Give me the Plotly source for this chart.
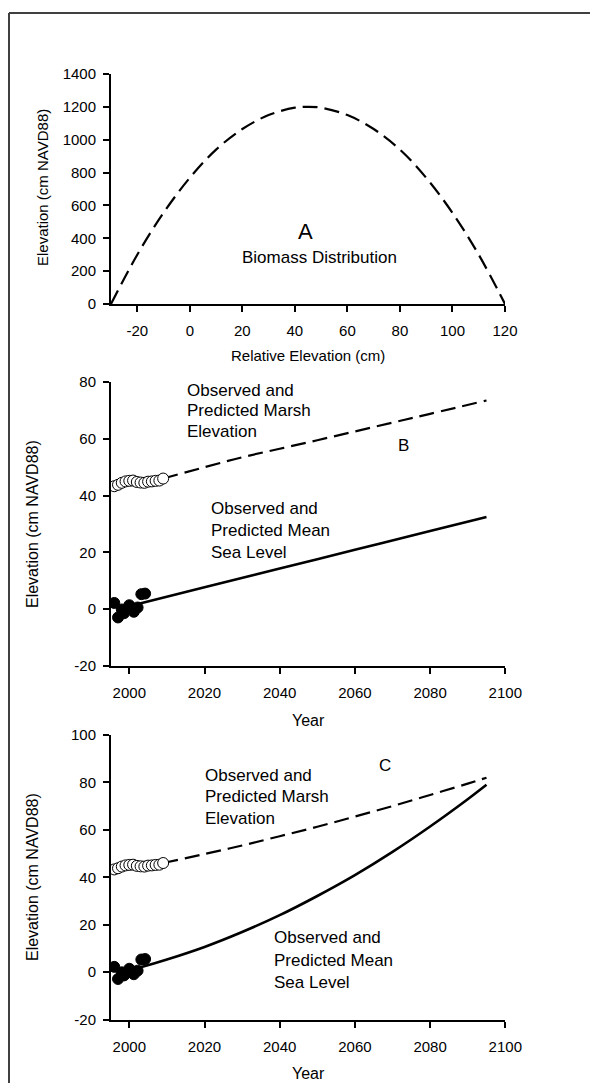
import plotly.graph_objects as go

# ---------------- data ----------------
rel_elev = [-30, -20, -10, 0, 10, 20, 30, 40, 45, 50, 60, 70, 80, 90, 100, 110, 120]
biomass = [0, 300, 555, 768, 940, 1065, 1150, 1195, 1200, 1195, 1150, 1065, 940, 768, 555, 300, 0]

obs_marsh_years = [1996, 1997, 1998, 1999, 2000, 2001, 2002, 2003, 2004, 2005, 2006, 2007, 2008, 2009]
obs_marsh = [43.3, 43.8, 44.5, 45.0, 45.2, 45.3, 44.8, 44.6, 44.5, 44.9, 45.0, 45.2, 45.3, 46.0]

obs_msl_years = [1996, 1997, 1998, 1998.6, 2000, 2001.2, 2002.2, 2003.2, 2004.2]
obs_msl = [2.2, -2.9, -0.1, -1.4, 1.4, -0.9, 0.6, 5.3, 5.5]

b_marsh_years = [2009, 2020, 2030, 2040, 2050, 2060, 2070, 2080, 2095]
b_marsh = [46.0, 50.0, 53.5, 56.5, 59.5, 62.6, 65.7, 68.8, 73.5]
b_msl_years = [1997, 2020, 2040, 2060, 2080, 2095]
b_msl = [0.1, 7.7, 14.3, 20.9, 27.5, 32.5]

c_marsh_years = [2009, 2020, 2030, 2040, 2050, 2060, 2070, 2080, 2090, 2095]
c_marsh = [46.0, 49.8, 53.4, 57.3, 61.3, 65.6, 70.0, 74.7, 79.5, 82.0]
c_msl_years = [1998, 2003, 2010, 2020, 2030, 2040, 2050, 2060, 2070, 2080, 2090, 2095]
c_msl = [0.0, 2.0, 5.3, 10.6, 16.9, 24.0, 32.1, 40.9, 50.7, 61.4, 72.9, 79.0]

a_xticks = [-20, 0, 20, 40, 60, 80, 100, 120]
a_xlabels = ["-20", "0", "20", "40", "60", "80", "100", "120"]
a_yticks = [0, 200, 400, 600, 800, 1000, 1200, 1400]
a_ylabels = ["0", "200", "400", "600", "800", "1000", "1200", "1400"]
year_ticks = [2000, 2020, 2040, 2060, 2080, 2100]
year_labels = ["2000", "2020", "2040", "2060", "2080", "2100"]
b_yticks = [-20, 0, 20, 40, 60, 80]
b_ylabels = ["-20", "0", "20", "40", "60", "80"]
c_yticks = [-20, 0, 20, 40, 60, 80, 100]
c_ylabels = ["-20", "0", "20", "40", "60", "80", "100"]

# ---------------- layout helpers ----------------
W, H = 590, 1083
FONT = "Arial, Liberation Sans, sans-serif"


def px(x):
    return x / W


def py(y):
    return 1 - y / H


DASH = "15px,7px"

fig = go.Figure()

# Panel A
fig.add_trace(go.Scatter(x=rel_elev, y=biomass, mode="lines", xaxis="x", yaxis="y",
                         line=dict(color="black", width=2.2, dash=DASH, shape="spline"),
                         showlegend=False, hoverinfo="skip"))

# Panel B
fig.add_trace(go.Scatter(x=b_marsh_years, y=b_marsh, mode="lines", xaxis="x2", yaxis="y2",
                         line=dict(color="black", width=2.2, dash=DASH, shape="spline"),
                         showlegend=False))
fig.add_trace(go.Scatter(x=b_msl_years, y=b_msl, mode="lines", xaxis="x2", yaxis="y2",
                         line=dict(color="black", width=2.6, shape="spline"), showlegend=False))
fig.add_trace(go.Scatter(x=obs_msl_years, y=obs_msl, mode="markers", xaxis="x2", yaxis="y2",
                         marker=dict(size=11, color="black", line=dict(color="black", width=1)),
                         showlegend=False))
fig.add_trace(go.Scatter(x=obs_marsh_years, y=obs_marsh, mode="markers", xaxis="x2", yaxis="y2",
                         marker=dict(size=11, color="white", line=dict(color="black", width=1)),
                         showlegend=False))

# Panel C
fig.add_trace(go.Scatter(x=c_marsh_years, y=c_marsh, mode="lines", xaxis="x3", yaxis="y3",
                         line=dict(color="black", width=2.2, dash=DASH, shape="spline"),
                         showlegend=False))
fig.add_trace(go.Scatter(x=c_msl_years, y=c_msl, mode="lines", xaxis="x3", yaxis="y3",
                         line=dict(color="black", width=2.6, shape="spline"), showlegend=False))
fig.add_trace(go.Scatter(x=obs_msl_years, y=obs_msl, mode="markers", xaxis="x3", yaxis="y3",
                         marker=dict(size=11, color="black", line=dict(color="black", width=1)),
                         showlegend=False))
fig.add_trace(go.Scatter(x=obs_marsh_years, y=obs_marsh, mode="markers", xaxis="x3", yaxis="y3",
                         marker=dict(size=11, color="white", line=dict(color="black", width=1)),
                         showlegend=False))

axis_common = dict(showline=True, linecolor="black", linewidth=2, ticks="outside",
                   ticklen=6, tickwidth=1.5, tickcolor="black", showgrid=False,
                   zeroline=False, automargin=False,
                   tickfont=dict(family=FONT, size=15, color="black"))

fig.update_layout(
    width=W, height=H,
    margin=dict(l=0, r=0, t=0, b=0),
    paper_bgcolor="white", plot_bgcolor="white",
    font=dict(family=FONT, color="black"),
    xaxis=dict(axis_common, domain=[px(111), px(505)], range=[-30, 120],
               tickvals=a_xticks, ticktext=a_xlabels, anchor="y", ticklabelstandoff=6),
    yaxis=dict(axis_common, domain=[py(304), py(74)], range=[0, 1400],
               tickvals=a_yticks, ticktext=a_ylabels, anchor="x", ticklabelstandoff=4),
    xaxis2=dict(axis_common, domain=[px(111), px(505.3)], range=[1995.13, 2100],
                tickvals=year_ticks, ticktext=year_labels, anchor="y2", ticklabelstandoff=6),
    yaxis2=dict(axis_common, domain=[py(666), py(382)], range=[-20, 80],
                tickvals=b_yticks, ticktext=b_ylabels, anchor="x2", ticklabelstandoff=4),
    xaxis3=dict(axis_common, domain=[px(111), px(505.3)], range=[1995.13, 2100],
                tickvals=year_ticks, ticktext=year_labels, anchor="y3", ticklabelstandoff=6),
    yaxis3=dict(axis_common, domain=[py(1019.5), py(735)], range=[-20, 100],
                tickvals=c_yticks, ticktext=c_ylabels, anchor="x3", ticklabelstandoff=4),
)


def txt(text, x, y, size, xanchor="center", angle=0):
    fig.add_annotation(text=text, x=px(x), y=py(y), xref="paper", yref="paper",
                       showarrow=False, xanchor=xanchor, yanchor="middle",
                       textangle=angle, font=dict(family=FONT, size=size, color="black"))


# axis titles
txt("Elevation (cm NAVD88)", 42, 188, 15, angle=-90)
txt("Relative Elevation (cm)", 308, 355, 15)
txt("Elevation (cm NAVD88)", 32, 524, 16, angle=-90)
txt("Year", 308, 720, 16)
txt("Elevation (cm NAVD88)", 32, 877, 16, angle=-90)
txt("Year", 308, 1073, 16)

# Panel A labels
txt("A", 305.7, 232, 22)
txt("Biomass Distribution", 319, 258, 17)

# Panel B labels
for i, s in enumerate(["Observed and", "Predicted Marsh", "Elevation"]):
    txt(s, 185, 390 + 20.6 * i, 17, xanchor="left")
for i, s in enumerate(["Observed and", "Predicted Mean", "Sea Level"]):
    txt(s, 209, 509 + 21.5 * i, 17, xanchor="left")
txt("B", 403, 445, 17)

# Panel C labels
txt("C", 385, 765, 17)
for i, s in enumerate(["Observed and", "Predicted Marsh", "Elevation"]):
    txt(s, 202.7, 775 + 21.5 * i, 17, xanchor="left")
for i, s in enumerate(["Observed and", "Predicted Mean", "Sea Level"]):
    txt(s, 272, 938 + 22 * i, 17, xanchor="left")

# outer frame (top and left edges visible)
fig.add_shape(type="line", xref="paper", yref="paper", x0=px(9), x1=1.0, y0=py(13), y1=py(13),
              line=dict(color="#404040", width=2))
fig.add_shape(type="line", xref="paper", yref="paper", x0=px(9), x1=px(9), y0=py(13), y1=0.0,
              line=dict(color="#404040", width=2))

fig.write_html("out.html")
